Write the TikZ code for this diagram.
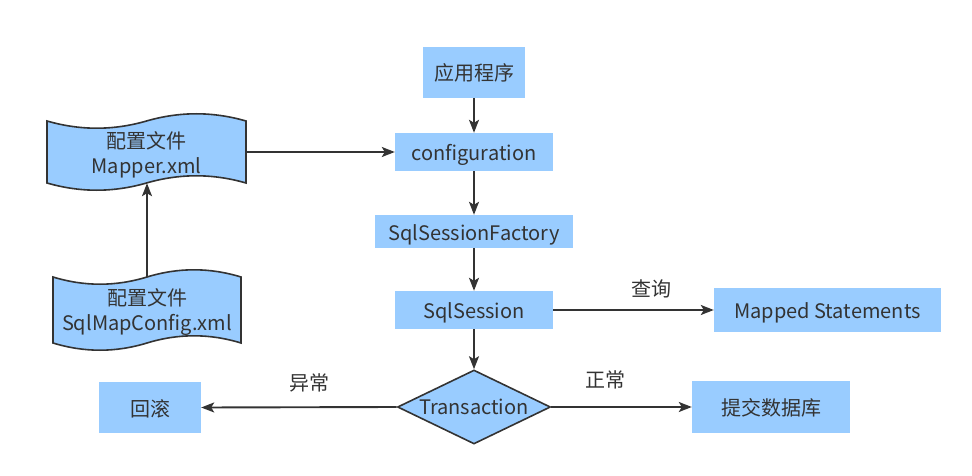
\documentclass[tikz,border=0pt]{standalone}
\usepackage{fontspec}
\setmainfont{Noto Sans CJK SC}
\usetikzlibrary{shapes.geometric,arrows.meta}
\definecolor{boxblue}{HTML}{99CCFF}
\definecolor{ink}{HTML}{333333}
\begin{document}
\begin{tikzpicture}[x=1pt,y=-1pt,
  every node/.style={text=ink,font=\fontsize{20}{25}\selectfont},
  blk/.style={fill=boxblue,draw=none,inner sep=0pt,align=center,text height=21pt,text depth=4pt},
  tapebox/.style={draw=none,inner sep=0pt},
  tapetext/.style={draw=none,inner sep=0pt,align=center},
  tapeline/.style={fill=boxblue,draw=ink,line width=1.6pt},
  dia/.style={diamond,fill=boxblue,draw=ink,line width=1.6pt,inner sep=0pt,aspect=2.07,minimum width=153pt,minimum height=74pt},
  conn/.style={draw=ink,line width=1.9pt,-{Stealth[length=13pt,width=10pt,inset=3pt]}},
  lbl/.style={inner sep=0pt}]
\useasboundingbox (0,0) rectangle (972,476);
% tape shapes
\path[tapeline] (47,121) .. controls (80.17,130.6) and (113.33,130.6) .. (146.5,121)
  .. controls (179.67,111.4) and (212.83,111.4) .. (246,121) -- (246,183)
  .. controls (212.83,173.4) and (179.67,173.4) .. (146.5,183)
  .. controls (113.33,192.6) and (80.17,192.6) .. (47,183) -- cycle;
\path[tapeline] (53,277) .. controls (84.33,286.6) and (115.67,286.6) .. (147,277)
  .. controls (178.33,267.4) and (209.67,267.4) .. (241,277) -- (241,343)
  .. controls (209.67,333.4) and (178.33,333.4) .. (147,343)
  .. controls (115.67,352.6) and (84.33,352.6) .. (53,343) -- cycle;
\node[tapebox,minimum width=199pt,minimum height=62pt] (mapper) at (146.5,152) {};
\node[tapebox,minimum width=188pt,minimum height=66pt] (smc) at (147,310) {};
\node[tapetext] (mappertxt) at (146.5,155) {配置文件\\Mapper.xml};
\node[tapetext] (smctxt) at (147,312) {配置文件\\SqlMapConfig.xml};
% boxes
\node[blk,minimum width=102pt,minimum height=51pt] (app) at (474,72.5) {应用程序};
\node[blk,minimum width=158pt,minimum height=38pt] (cfg) at (474,152) {configuration};
\node[blk,minimum width=198pt,minimum height=33pt] (fac) at (474,231.5) {SqlSessionFactory};
\node[blk,minimum width=158pt,minimum height=38pt] (ses) at (474,310) {SqlSession};
\node[blk,minimum width=227pt,minimum height=44pt] (ms) at (827.5,310) {Mapped Statements};
\node[dia] (tx) at (474,407) {\raisebox{-7.5pt}[0pt][0pt]{Transaction}};
\node[blk,minimum width=102pt,minimum height=51pt] (rb) at (150,407.5) {回滚};
\node[blk,minimum width=158pt,minimum height=52pt] (commit) at (771,407) {提交数据库};
% connectors
\draw[conn] (smc.north) -- (smc.north |- mapper.south);
\draw[conn] (mapper.east) -- (cfg.west);
\draw[conn] (app.south) -- (cfg.north);
\draw[conn] (cfg.south) -- (fac.north);
\draw[conn] (fac.south) -- (ses.north);
\draw[conn] (ses.south) -- (tx.north);
\draw[conn] (ses.east) -- node[lbl,pos=0.615,yshift=21pt] (lq) {查询} (ms.west);
\draw[conn] (tx.west) -- node[lbl,pos=0.444,yshift=24pt] (le) {异常} (rb.east);
\draw[conn] (tx.east) -- node[lbl,pos=0.387,yshift=27pt] (ln) {正常} (commit.west);
\end{tikzpicture}
\end{document}
